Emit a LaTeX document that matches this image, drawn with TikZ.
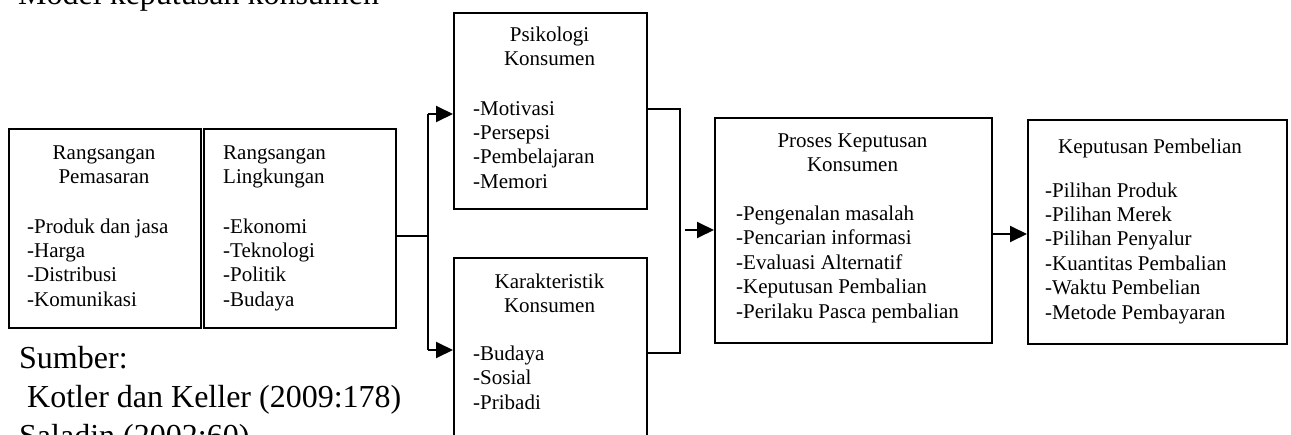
\documentclass[tikz,border=0pt]{standalone}
\usepackage{fontspec}
\setmainfont{Liberation Serif}
\usetikzlibrary{arrows.meta}
\begin{document}
\begin{tikzpicture}[x=1pt,y=-1pt,
  box/.style={draw, line width=1.9pt, inner sep=0pt, anchor=north west},
  txt/.style={inner sep=0pt, font=\fontsize{21}{24.5}\selectfont},
  big/.style={inner sep=0pt, font=\fontsize{32}{38}\selectfont, anchor=base west},
  link/.style={line width=1.9pt},
  arr/.style={line width=1.9pt, -{Triangle[length=17pt,width=16pt]}}]
\useasboundingbox (0,0) rectangle (1291,434);

% title and sources
\node[big] (title) at (18,4) {Model keputusan konsumen};
\node[big] (src) at (19,368) {Sumber:};
\node[big] (src1) at (27,407) {Kotler dan Keller (2009:178)};
\node[big] (src2) at (19,446) {Saladin (2002:60)};

% boxes
\node[box, minimum width=192pt, minimum height=199pt] (b1) at (8,128) {};
\node[box, minimum width=192pt, minimum height=199pt] (b2) at (203,128) {};
\node[box, minimum width=193pt, minimum height=196pt] (b3) at (453,12) {};
\node[box, minimum width=193pt, minimum height=213pt] (b4) at (453,257) {};
\node[box, minimum width=277pt, minimum height=225pt] (b5) at (714,117) {};
\node[box, minimum width=259pt, minimum height=224pt] (b6) at (1027,119) {};

% Rangsangan Pemasaran
\foreach \s [count=\i from 0] in {Rangsangan, Pemasaran}
  \node[txt, anchor=base] (b1h\i) at (104,{159+24.5*\i}) {\s};
\foreach \s [count=\i from 0] in {-Produk dan jasa, -Harga, -Distribusi, -Komunikasi}
  \node[txt, anchor=base west] (b1l\i) at (27,{233+24.4*\i}) {\s};

% Rangsangan Lingkungan
\foreach \s [count=\i from 0] in {Rangsangan, Lingkungan}
  \node[txt, anchor=base west] (b2h\i) at (223,{159+24.5*\i}) {\s};
\foreach \s [count=\i from 0] in {-Ekonomi, -Teknologi, -Politik, -Budaya}
  \node[txt, anchor=base west] (b2l\i) at (223,{233+24.4*\i}) {\s};

% Psikologi Konsumen
\foreach \s [count=\i from 0] in {Psikologi, Konsumen}
  \node[txt, anchor=base] (b3h\i) at (549.5,{41+24.5*\i}) {\s};
\foreach \s [count=\i from 0] in {-Motivasi, -Persepsi, -Pembelajaran, -Memori}
  \node[txt, anchor=base west] (b3l\i) at (473,{115+24.4*\i}) {\s};

% Karakteristik Konsumen
\foreach \s [count=\i from 0] in {Karakteristik, Konsumen}
  \node[txt, anchor=base] (b4h\i) at (549.5,{288+24.5*\i}) {\s};
\foreach \s [count=\i from 0] in {-Budaya, -Sosial, -Pribadi}
  \node[txt, anchor=base west] (b4l\i) at (473,{360+24.5*\i}) {\s};

% Proses Keputusan Konsumen
\foreach \s [count=\i from 0] in {Proses Keputusan, Konsumen}
  \node[txt, anchor=base] (b5h\i) at (852.5,{147+24.5*\i}) {\s};
\foreach \s [count=\i from 0] in {-Pengenalan masalah, -Pencarian informasi, -Evaluasi Alternatif, -Keputusan Pembalian, -Perilaku Pasca pembalian}
  \node[txt, anchor=base west] (b5l\i) at (736,{220+24.5*\i}) {\s};

% Keputusan Pembelian
\node[txt, anchor=base west] (b6h) at (1058,153) {Keputusan Pembelian};
\foreach \s [count=\i from 0] in {-Pilihan Produk, -Pilihan Merek, -Pilihan Penyalur, -Kuantitas Pembalian, -Waktu Pembelian, -Metode Pembayaran}
  \node[txt, anchor=base west] (b6l\i) at (1045,{197+24.4*\i}) {\s};

% connectors: stimuli split into the two consumer boxes
\coordinate (s1) at (428,236);
\coordinate (s1t) at (428,114);
\coordinate (s1b) at (428,350);
\draw[link] (b2.east |- s1) -- (s1);
\draw[link] (s1t) -- (s1b);
\draw[arr] (s1t) -- (b3.west |- s1t);
\draw[arr] (s1b) -- (b4.west |- s1b);

% connectors: consumer boxes merge into the decision process
\coordinate (m1t) at (680,109);
\coordinate (m1b) at (680,353);
\coordinate (m1) at (685,230);
\draw[link] (b3.east |- m1t) -- (m1t) -- (m1b) -- (b4.east |- m1b);
\draw[arr] (m1) -- (b5.west |- m1);

% process to purchase decision
\coordinate (p1) at (991,234);
\draw[arr] (b5.east |- p1) -- (b6.west |- p1);
\end{tikzpicture}
\end{document}
